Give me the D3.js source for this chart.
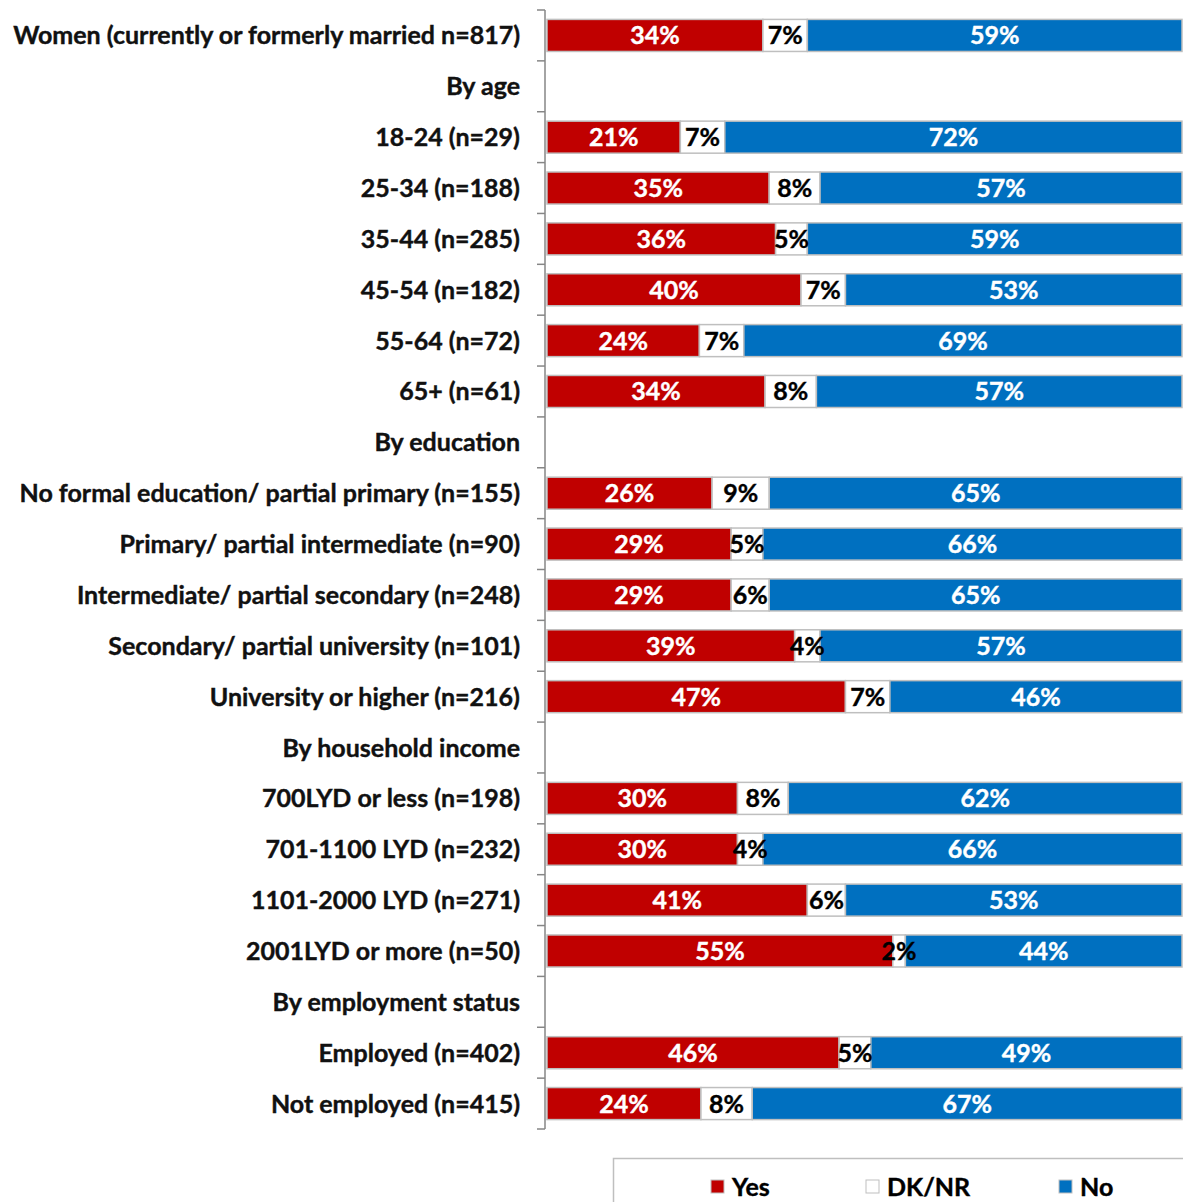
<!DOCTYPE html>
<html><head><meta charset="utf-8">
<script src="https://cdn.jsdelivr.net/npm/d3@7"></script>
<style>body{margin:0;background:#fff;}svg{display:block;}</style>
</head><body>
<svg id="chart" width="1183" height="1202"></svg>
<script>
const categories = [
  "Women (currently or formerly married n=817)",
  "By age",
  "18-24 (n=29)",
  "25-34 (n=188)",
  "35-44 (n=285)",
  "45-54 (n=182)",
  "55-64 (n=72)",
  "65+ (n=61)",
  "By education",
  "No formal education/ partial primary (n=155)",
  "Primary/ partial intermediate (n=90)",
  "Intermediate/ partial secondary (n=248)",
  "Secondary/ partial university (n=101)",
  "University or higher (n=216)",
  "By household income",
  "700LYD or less (n=198)",
  "701-1100 LYD (n=232)",
  "1101-2000 LYD (n=271)",
  "2001LYD or more (n=50)",
  "By employment status",
  "Employed (n=402)",
  "Not employed (n=415)"
];
const yesValues  = [34,null,21,35,36,40,24,34,null,26,29,29,39,47,null,30,30,41,55,null,46,24];
const dkValues   = [7, null,7, 8, 5, 7, 7, 8, null,9, 5, 6, 4, 7, null,8, 4, 6, 2, null,5, 8];
const noValues   = [59,null,72,57,59,53,69,57,null,65,66,65,57,46,null,62,66,53,44,null,49,67];
const seriesNames = ["Yes","DK/NR","No"];
const seriesColors = ["#C00000","#FFFFFF","#0070C0"];
const labelColors = ["#FFFFFF","#000000","#FFFFFF"];

const svg = d3.select("#chart");
const font = "Lato, 'Open Sans', sans-serif";
const fs = 25;

const y = d3.scaleBand().domain(categories).range([10, 1129]).paddingInner(0.37).paddingOuter(0.185);
const x = d3.scaleLinear().domain([0,1]).range([547, 1182]);

const rows = categories.map((c,i)=>({cat:c, vals:[yesValues[i],dkValues[i],noValues[i]]}));
const segs = [];
rows.forEach(r=>{
  if (r.vals[0]==null) return;
  const total = d3.sum(r.vals);
  let acc = 0;
  r.vals.forEach((v,k)=>{ segs.push({cat:r.cat, k, v, x0:acc/total, x1:(acc+v)/total}); acc+=v; });
});

svg.append("g").selectAll("rect").data(segs).join("rect")
  .attr("x", d=>x(d.x0)).attr("width", d=>x(d.x1)-x(d.x0))
  .attr("y", d=>y(d.cat)).attr("height", y.bandwidth())
  .attr("fill", d=>seriesColors[d.k])
  .attr("stroke", "#BFBFBF").attr("stroke-width", 1.5);

svg.append("g").selectAll("text").data(segs).join("text")
  .attr("x", d=>(x(d.x0)+x(d.x1))/2)
  .attr("y", d=>y(d.cat)+y.bandwidth()/2)
  .attr("dy","0.36em")
  .attr("text-anchor","middle")
  .attr("font-family", font).attr("font-weight","bold").attr("font-size", fs)
  .attr("fill", d=>labelColors[d.k])
  .attr("stroke", d=>labelColors[d.k]).attr("stroke-width",0.4)
  .text(d=>d.v+"%");

// axis
const axisG = svg.append("g").attr("transform","translate(545,0)");
const axis = d3.axisLeft(y).tickSize(0).tickPadding(25).tickSizeOuter(0);
axisG.call(axis);
axisG.select(".domain").remove();
axisG.selectAll("text").attr("font-family", font).attr("font-weight","bold").attr("font-size",fs)
  .attr("fill","#111").attr("stroke","#111").attr("stroke-width",0.4).attr("dy","0.36em");
axisG.append("line").attr("x1",0).attr("x2",0).attr("y1",10).attr("y2",1129).attr("stroke","#868686").attr("stroke-width",1.5);
const bounds = d3.range(categories.length+1).map(i=>10 + i*(1119/categories.length));
axisG.selectAll("line.tk").data(bounds).join("line").attr("class","tk")
  .attr("x1",-8).attr("x2",0).attr("y1",d=>d).attr("y2",d=>d)
  .attr("stroke","#868686").attr("stroke-width",1.5);

// legend
const lg = svg.append("g");
lg.append("rect").attr("x",613.5).attr("y",1158.5).attr("width",600).attr("height",80)
  .attr("fill","#fff").attr("stroke","#BFBFBF").attr("stroke-width",1.5);
const legX = [711, 866, 1059];
seriesNames.forEach((n,k)=>{
  lg.append("rect").attr("x",legX[k]).attr("y",1180).attr("width",13).attr("height",13)
    .attr("fill",seriesColors[k]).attr("stroke","#BFBFBF").attr("stroke-width",1);
  lg.append("text").attr("x",legX[k]+21).attr("y",1187).attr("dy","0.36em")
    .attr("font-family",font).attr("font-weight","bold").attr("font-size",fs)
    .attr("fill","#000").attr("stroke","#000").attr("stroke-width",0.4).text(n);
});
</script>
</body></html>
